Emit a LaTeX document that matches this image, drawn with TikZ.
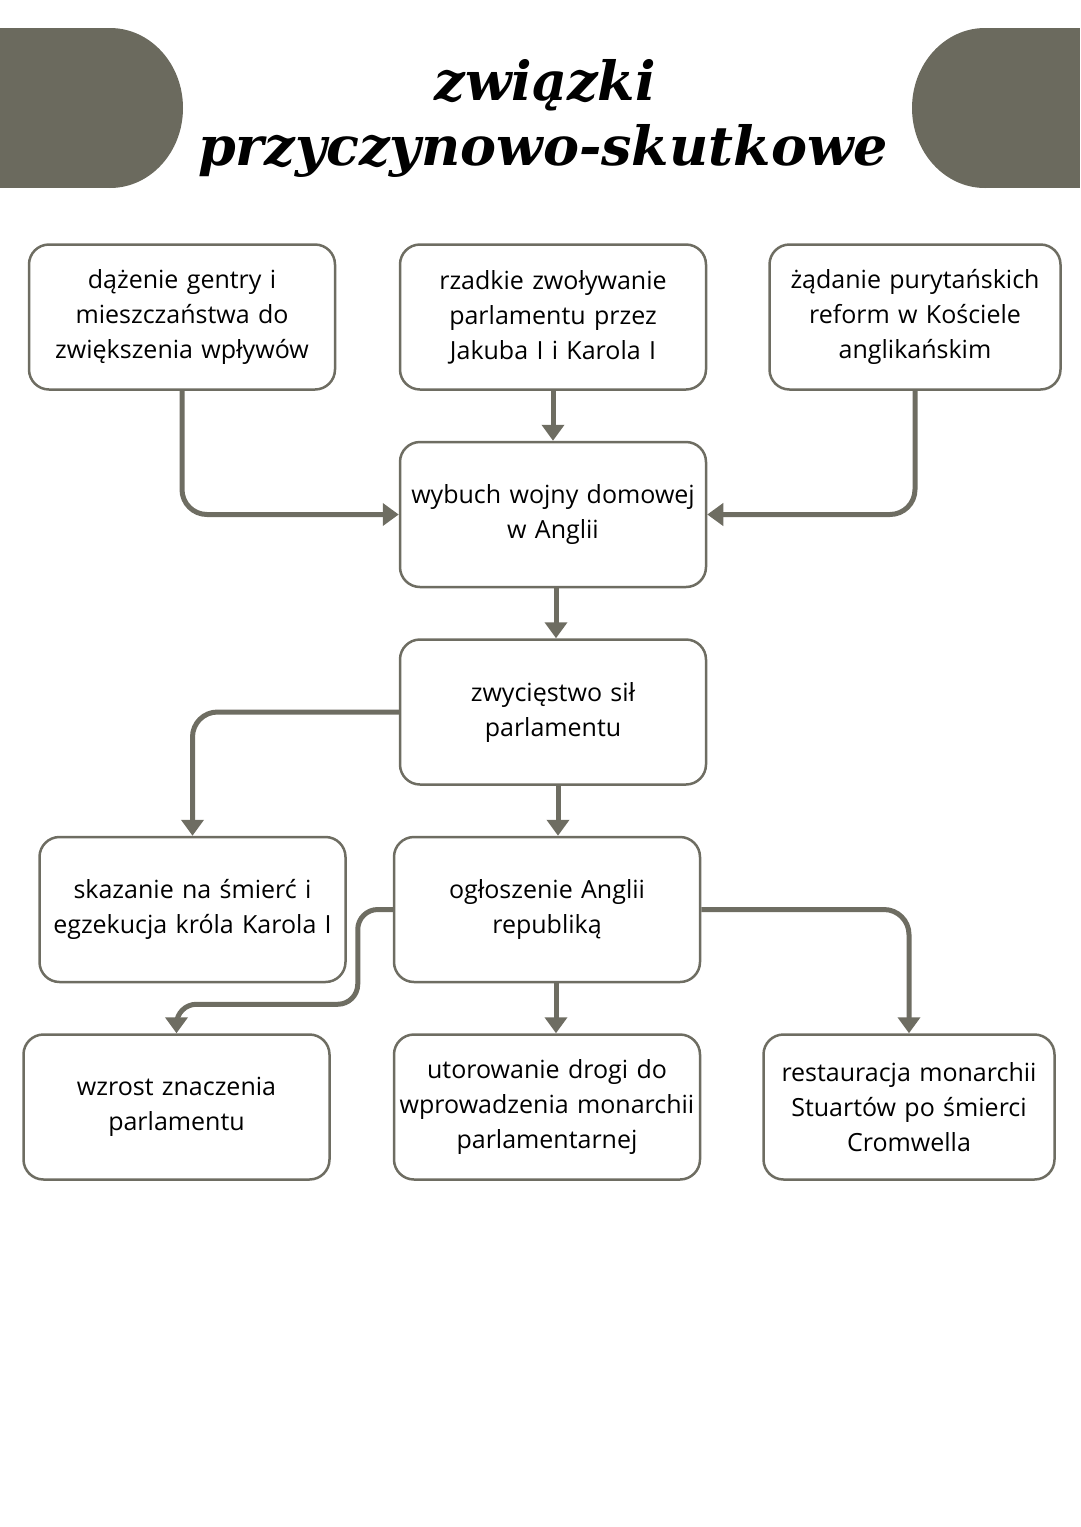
\documentclass[tikz,border=0pt]{standalone}
\usepackage{fontspec}
\setmainfont{Open Sans}
\newfontfamily\titlefont{DejaVu Serif}
\usepackage{tikz}
\usetikzlibrary{shapes.geometric, arrows.meta, positioning}
\usetikzlibrary{calc}

\definecolor{headgray}{HTML}{6B6A5E}
\definecolor{linegray}{HTML}{6E6D62}

\begin{document}
\begin{tikzpicture}[x=1pt, y=-1pt, node distance=50pt]
			% Define style
			\tikzset{
				box/.style={rectangle, rounded corners=20pt, minimum width=306pt, minimum height=145pt, text width=300pt, inner sep=0pt, align=center, draw=linegray, line width=2.5pt, fill=white, font=\fontsize{25}{35}\selectfont},
				narrowbox/.style={box, minimum width=291pt, text width=287pt},
				arrow/.style={line width=5pt, draw=linegray, -{Triangle[width=22pt,length=16pt]}, rounded corners=25pt},
				titlestyle/.style={anchor=base, font=\fontsize{54}{60}\titlefont\bfseries\itshape}
			}
			\useasboundingbox (0,0) rectangle (1080,1527);
			
			% Define header
			\fill[headgray] (0,28) rectangle (110,188);
			\fill[headgray] (110,108) ellipse [x radius=73, y radius=80];
			\fill[headgray] (985,28) rectangle (1080,188);
			\fill[headgray] (985,108) ellipse [x radius=73, y radius=80];
			\node[titlestyle] (title1) at (545,100) {związki};
			\node[titlestyle] (title2) at (543,165) {przyczynowo-skutkowe};
			
			% Define blocks
			\node (dazenie) [box] at (182,317) {dążenie gentry i\\ mieszczaństwa do\\ zwiększenia wpływów};
			\node (rzadkie) [box] at (553,317) {rzadkie zwoływanie\\ parlamentu przez\\ Jakuba I i Karola I};
			\node (zadanie) [narrowbox] at (915,317) {żądanie purytańskich\\ reform w Kościele\\ anglikańskim};
			\node (wybuch) [box, below=of rzadkie] {wybuch wojny domowej\\ w Anglii};
			\node (zwyciestwo) [box, below=of wybuch] {zwycięstwo sił\\ parlamentu};
			\node (ogloszenie) [box, below=of zwyciestwo, xshift=-6pt] {ogłoszenie Anglii\\ republiką};
			\node (skazanie) [box, left=46pt of ogloszenie] {skazanie na śmierć i\\ egzekucja króla Karola I};
			\node (utorowanie) [box, below=of ogloszenie] {utorowanie drogi do\\ wprowadzenia monarchii\\ parlamentarnej};
			\node (wzrost) [box, left=62pt of utorowanie] {wzrost znaczenia\\ parlamentu};
			\node (restauracja) [narrowbox, right=61pt of utorowanie] {restauracja monarchii\\ Stuartów po śmierci\\ Cromwella};
			\coordinate (bend) at ($(wzrost.north)+(0,-29)$);
			
			% Define arrows
			\draw [arrow] (dazenie.south) |- (wybuch.west);
			\draw [arrow] (rzadkie) -- (wybuch);
			\draw [arrow] (zadanie.south) |- (wybuch.east);
			\draw [arrow] ([xshift=3pt]wybuch.south) -- ([xshift=3pt]zwyciestwo.north);
			\draw [arrow] (zwyciestwo.west) -| (skazanie.north);
			\draw [arrow] ([xshift=5pt]zwyciestwo.south) -- ([xshift=11pt]ogloszenie.north);
			\draw [arrow, rounded corners=20pt] (ogloszenie.west) -- ++(-35,0) |- (bend) -- (wzrost.north);
			\draw [arrow] ([xshift=9pt]ogloszenie.south) -- ([xshift=9pt]utorowanie.north);
			\draw [arrow] (ogloszenie.east) -| (restauracja.north);
		\end{tikzpicture}
\end{document}
